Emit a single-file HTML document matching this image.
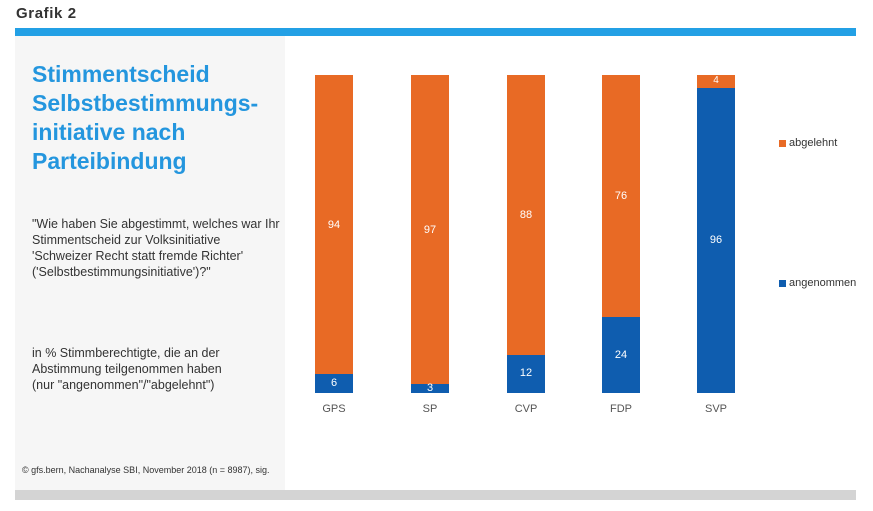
<!DOCTYPE html>
<html><head><meta charset="utf-8"><style>
body{margin:0;width:873px;height:511px;background:#fff;font-family:"Liberation Sans",sans-serif;position:relative;overflow:hidden}
.a{position:absolute}
.bar{position:absolute;width:38px}
.o{background:#e86a25}.b{background:#0f5daf}
.v{position:absolute;width:38px;text-align:center;color:#fff;font-size:11px}
.l{position:absolute;width:60px;text-align:center;color:#555;font-size:11px;top:403px}
</style></head><body>
<div class="a" style="left:16px;top:5px;font-size:15px;color:#333;letter-spacing:0.6px;font-weight:bold">Grafik 2</div>
<div class="a" style="left:15px;top:28px;width:841px;height:8px;background:#23a0e5"></div>
<div class="a" style="left:15px;top:36px;width:270px;height:454px;background:#f6f6f6"></div>
<div class="a" style="left:15px;top:490px;width:841px;height:10px;background:#d4d4d4"></div>
<div class="a" style="left:32px;top:60px;font-size:23px;line-height:29px;font-weight:bold;color:#2496de">Stimmentscheid<br>Selbstbestimmungs-<br>initiative nach<br>Parteibindung</div>
<div class="a" style="left:32px;top:216px;font-size:12.5px;line-height:16px;color:#333">"Wie haben Sie abgestimmt, welches war Ihr<br>Stimmentscheid zur Volksinitiative<br>'Schweizer Recht statt fremde Richter'<br>('Selbstbestimmungsinitiative')?"</div>
<div class="a" style="left:32px;top:345px;font-size:12.5px;line-height:16px;color:#333">in % Stimmberechtigte, die an der<br>Abstimmung teilgenommen haben<br>(nur "angenommen"/"abgelehnt")</div>
<div class="a" style="left:22px;top:465px;font-size:9px;color:#333">© gfs.bern, Nachanalyse SBI, November 2018 (n = 8987), sig.</div>

<div class="bar o" style="left:315px;top:75px;height:299px"></div><div class="bar b" style="left:315px;top:374px;height:19px"></div>
<div class="v" style="left:315px;top:219px">94</div><div class="v" style="left:315px;top:377px">6</div>
<div class="bar o" style="left:411px;top:75px;height:309px"></div><div class="bar b" style="left:411px;top:384px;height:9px"></div>
<div class="v" style="left:411px;top:224px">97</div><div class="v" style="left:411px;top:382px">3</div>
<div class="bar o" style="left:507px;top:75px;height:280px"></div><div class="bar b" style="left:507px;top:355px;height:38px"></div>
<div class="v" style="left:507px;top:209px">88</div><div class="v" style="left:507px;top:367px">12</div>
<div class="bar o" style="left:602px;top:75px;height:242px"></div><div class="bar b" style="left:602px;top:317px;height:76px"></div>
<div class="v" style="left:602px;top:190px">76</div><div class="v" style="left:602px;top:349px">24</div>
<div class="bar o" style="left:697px;top:75px;height:13px"></div><div class="bar b" style="left:697px;top:88px;height:305px"></div>
<div class="v" style="left:697px;top:75px;font-size:10px">4</div><div class="v" style="left:697px;top:234px">96</div>

<div class="l" style="left:304px">GPS</div><div class="l" style="left:400px">SP</div><div class="l" style="left:496px">CVP</div><div class="l" style="left:591px">FDP</div><div class="l" style="left:686px">SVP</div>

<div class="a o" style="left:779px;top:140px;width:7px;height:7px"></div>
<div class="a" style="left:789px;top:137px;font-size:11px;color:#333">abgelehnt</div>
<div class="a b" style="left:779px;top:280px;width:7px;height:7px"></div>
<div class="a" style="left:789px;top:277px;font-size:11px;color:#333">angenommen</div>
</body></html>
